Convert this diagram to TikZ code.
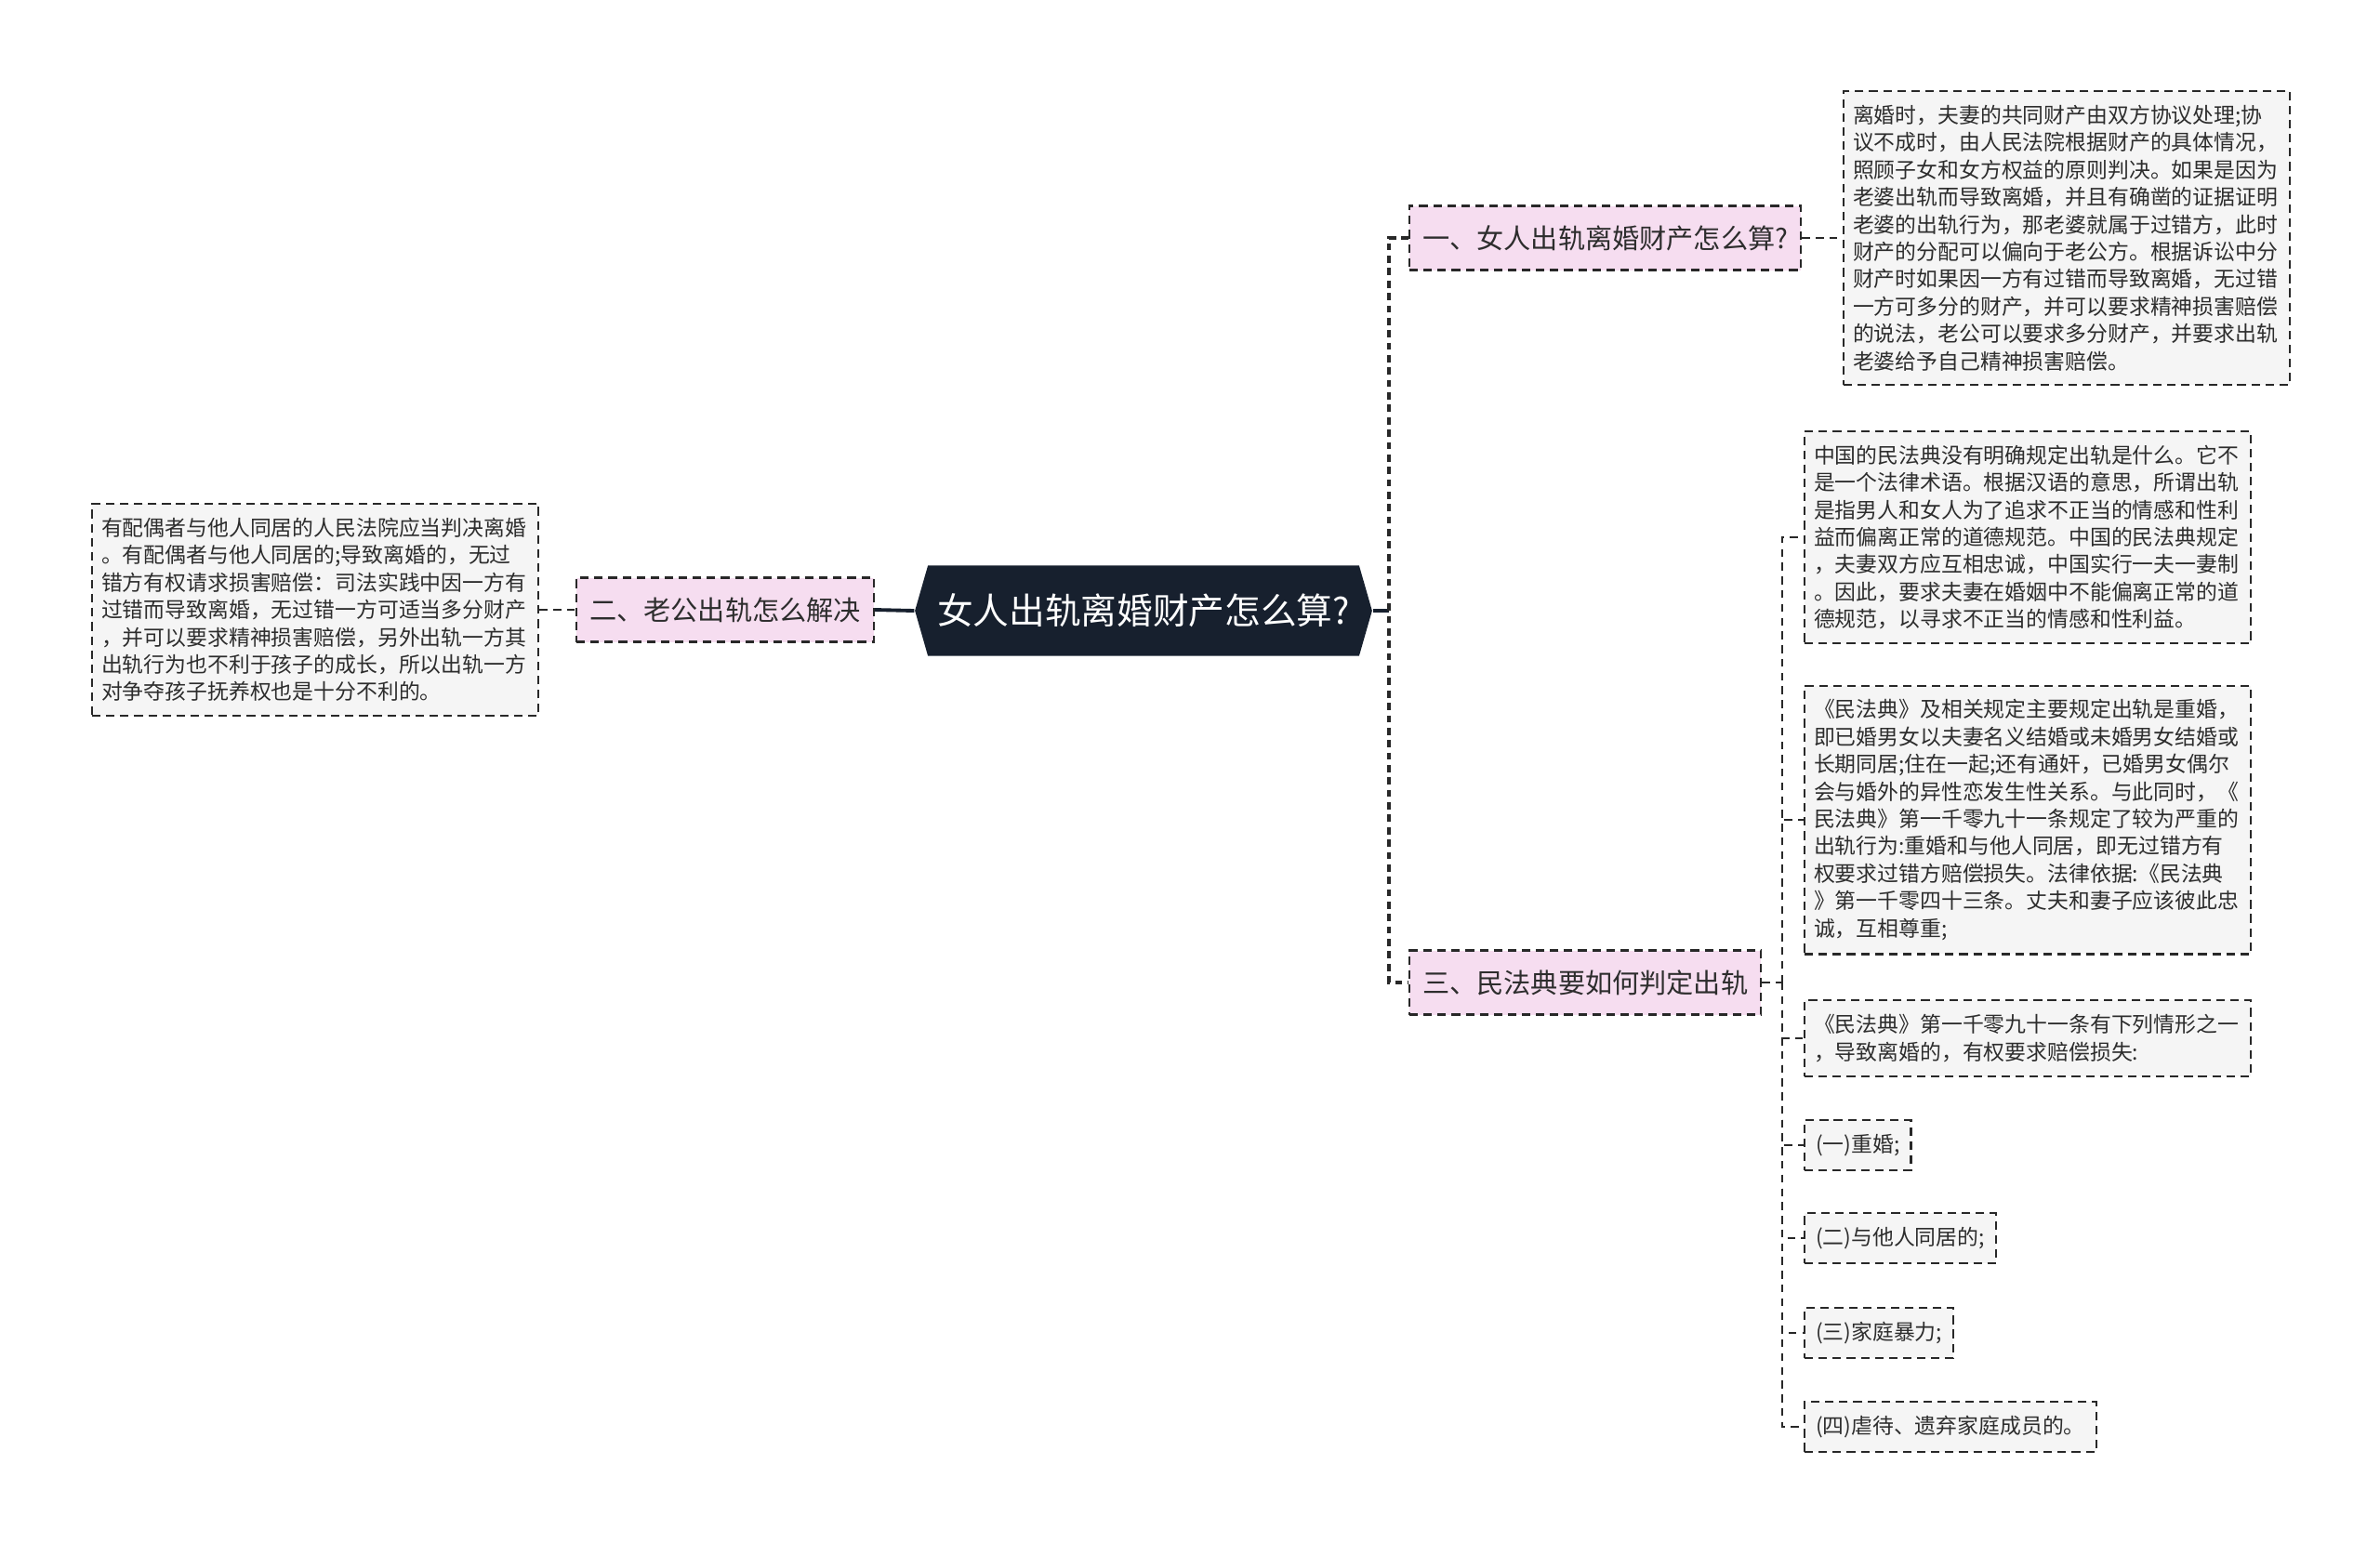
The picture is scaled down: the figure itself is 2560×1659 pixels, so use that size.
\documentclass[tikz,border=0pt]{standalone}
\usepackage{fontspec}
\setmainfont{Noto Sans CJK SC}
\usetikzlibrary{shapes.symbols}

\definecolor{fondoraiz}{RGB}{23,32,46}
\definecolor{rosa}{RGB}{246,221,240}
\definecolor{gris}{RGB}{245,245,245}
\definecolor{texto}{RGB}{45,45,45}
\definecolor{linea}{RGB}{40,40,40}

\begin{document}
\begin{tikzpicture}[
    x=0.01cm, y=-0.01cm,
    % Estilos de los nodos
    raiz/.style={shape=signal, signal to=west and east, signal pointer angle=148,
        fill=fondoraiz, text=white, font=\fontsize{11pt}{13pt}\selectfont,
        minimum height=0.97cm, inner xsep=0.1cm},
    rama/.style={draw=linea, line width=0.6pt, dash pattern=on 2.6pt off 1.7pt,
        fill=rosa, text=texto, font=\fontsize{8.3pt}{10pt}\selectfont,
        minimum height=0.69cm, inner xsep=0.14cm},
    nota/.style={draw=linea, line width=0.6pt, dash pattern=on 2.6pt off 1.7pt,
        fill=gris, text=texto, font=\fontsize{6.5pt}{8.36pt}\selectfont,
        text width=4.6cm, align=left, inner xsep=0.1cm, inner ysep=0.15cm},
    nota_corta/.style={draw=linea, line width=0.6pt, dash pattern=on 2.6pt off 1.7pt,
        fill=gris, text=texto, font=\fontsize{6.5pt}{8.36pt}\selectfont,
        inner xsep=0.12cm, inner ysep=0.15cm},
    enlace/.style={draw=linea, line width=0.6pt, dash pattern=on 2.4pt off 1.8pt},
    tronco/.style={draw=linea, line width=1.1pt, dash pattern=on 2.2pt off 1.6pt},
    solido/.style={draw=fondoraiz, line width=1.1pt}
    ]

    \useasboundingbox (0,0) rectangle (2560,1659);

    % Nodo central
    \node[raiz] (raiz) at (1230,657) {女人出轨离婚财产怎么算?};

    % Rama izquierda
    \node[rama, anchor=west] (er) at (619,656) {二、老公出轨怎么解决};
    \node[nota, anchor=west] (izq) at (98,656) {有配偶者与他人同居的人民法院应当判决离婚\\
        。有配偶者与他人同居的;导致离婚的，无过\\
        错方有权请求损害赔偿：司法实践中因一方有\\
        过错而导致离婚，无过错一方可适当多分财产\\
        ，并可以要求精神损害赔偿，另外出轨一方其\\
        出轨行为也不利于孩子的成长，所以出轨一方\\
        对争夺孩子抚养权也是十分不利的。};

    % Ramas derechas
    \node[rama, anchor=west] (yi) at (1515,256) {一、女人出轨离婚财产怎么算?};
    \node[rama, anchor=west] (san) at (1515,1057) {三、民法典要如何判定出轨};

    % Nota de la rama uno
    \node[nota, anchor=west] (b1) at (1982,256) {离婚时，夫妻的共同财产由双方协议处理;协\\
        议不成时，由人民法院根据财产的具体情况，\\
        照顾子女和女方权益的原则判决。如果是因为\\
        老婆出轨而导致离婚，并且有确凿的证据证明\\
        老婆的出轨行为，那老婆就属于过错方，此时\\
        财产的分配可以偏向于老公方。根据诉讼中分\\
        财产时如果因一方有过错而导致离婚，无过错\\
        一方可多分的财产，并可以要求精神损害赔偿\\
        的说法，老公可以要求多分财产，并要求出轨\\
        老婆给予自己精神损害赔偿。};

    % Notas de la rama tres
    \node[nota, anchor=west] (b2) at (1940,578) {中国的民法典没有明确规定出轨是什么。它不\\
        是一个法律术语。根据汉语的意思，所谓出轨\\
        是指男人和女人为了追求不正当的情感和性利\\
        益而偏离正常的道德规范。中国的民法典规定\\
        ，夫妻双方应互相忠诚，中国实行一夫一妻制\\
        。因此，要求夫妻在婚姻中不能偏离正常的道\\
        德规范，以寻求不正当的情感和性利益。};
    \node[nota, anchor=west] (b3) at (1940,882) {《民法典》及相关规定主要规定出轨是重婚，\\
        即已婚男女以夫妻名义结婚或未婚男女结婚或\\
        长期同居;住在一起;还有通奸，已婚男女偶尔\\
        会与婚外的异性恋发生性关系。与此同时，《\\
        民法典》第一千零九十一条规定了较为严重的\\
        出轨行为:重婚和与他人同居，即无过错方有\\
        权要求过错方赔偿损失。法律依据:《民法典\\
        》第一千零四十三条。丈夫和妻子应该彼此忠\\
        诚，互相尊重;};
    \node[nota, anchor=west] (b4) at (1940,1117) {《民法典》第一千零九十一条有下列情形之一\\
        ，导致离婚的，有权要求赔偿损失:};
    \node[nota_corta, anchor=west] (c1) at (1940,1232) {(一)重婚;};
    \node[nota_corta, anchor=west] (c2) at (1940,1332) {(二)与他人同居的;};
    \node[nota_corta, anchor=west] (c3) at (1940,1434) {(三)家庭暴力;};
    \node[nota_corta, anchor=west] (c4) at (1940,1535) {(四)虐待、遗弃家庭成员的。};

    % Conectores
    \coordinate (ja) at (1494,657);
    \coordinate (jb) at (1917,1057);
    \draw[enlace] (izq.east) -- (er.west);
    \draw[solido] (er.east) -- (raiz.west);
    \draw[solido] (raiz.east) -- (ja);
    \draw[tronco] (yi.west) -| (ja) |- (san.west);
    \draw[enlace] (yi.east) -- (b1.west);
    \draw[enlace] (san.east) -- (jb);
    \foreach \hijo in {b2,b3,b4,c1,c2,c3,c4}
        \draw[enlace] (jb) |- (\hijo.west);

\end{tikzpicture}
\end{document}
